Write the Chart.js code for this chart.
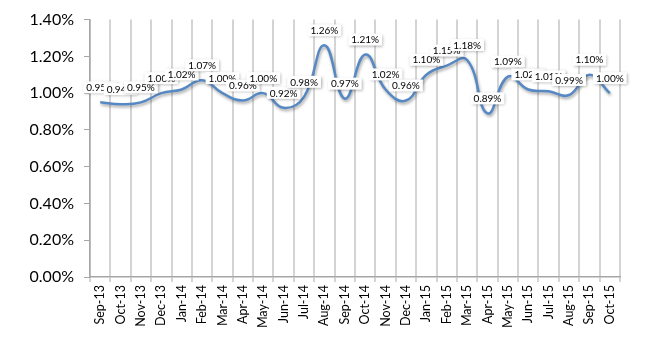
<!DOCTYPE html>
<html>
<head>
<meta charset="utf-8">
<script src="https://cdn.jsdelivr.net/npm/chart.js@4/dist/chart.umd.min.js"></script>
<style>
html,body{margin:0;padding:0;background:#fff;}
#wrap{width:650px;height:350px;position:relative;}
</style>
</head>
<body>
<div id="wrap"><canvas id="c"></canvas></div>
<script>
const categories = ["Sep-13","Oct-13","Nov-13","Dec-13","Jan-14","Feb-14","Mar-14","Apr-14","May-14","Jun-14","Jul-14","Aug-14","Sep-14","Oct-14","Nov-14","Dec-14","Jan-15","Feb-15","Mar-15","Apr-15","May-15","Jun-15","Jul-15","Aug-15","Sep-15","Oct-15"];
const rates = [0.95,0.94,0.95,1.00,1.02,1.07,1.00,0.96,1.00,0.92,0.98,1.26,0.97,1.21,1.02,0.96,1.10,1.15,1.18,0.89,1.09,1.02,1.01,0.99,1.10,1.00];
const yTicks = [0,0.2,0.4,0.6,0.8,1.0,1.2,1.4];

const FONT = "Lato, 'Open Sans', sans-serif";

const shadowPlugin = {
  id: 'lineShadow',
  beforeDatasetDraw(chart) {
    const ctx = chart.ctx;
    ctx.save();
    ctx.shadowColor = 'rgba(0,0,0,0.35)';
    ctx.shadowBlur = 3;
    ctx.shadowOffsetX = 1;
    ctx.shadowOffsetY = 2;
  },
  afterDatasetDraw(chart) {
    chart.ctx.restore();
  }
};

const labelPlugin = {
  id: 'boxLabels',
  afterDatasetsDraw(chart) {
    const ctx = chart.ctx;
    const meta = chart.getDatasetMeta(0);
    ctx.save();
    ctx.font = "10px " + FONT;
    ctx.textBaseline = 'middle';
    ctx.textAlign = 'center';
    meta.data.forEach((pt, i) => {
      const txt = rates[i].toFixed(2) + '%';
      const w = ctx.measureText(txt).width + 6;
      const h = 12;
      const cx = pt.x, cy = pt.y - 15;
      ctx.save();
      ctx.shadowColor = 'rgba(0,0,0,0.35)';
      ctx.shadowBlur = 3;
      ctx.shadowOffsetX = 1;
      ctx.shadowOffsetY = 1;
      ctx.fillStyle = '#ffffff';
      ctx.fillRect(cx - w/2, cy - h/2, w, h);
      ctx.restore();
      ctx.fillStyle = '#000000';
      ctx.fillText(txt, cx, cy + 0.5);
    });
    ctx.restore();
  }
};

new Chart(document.getElementById('c'), {
  type: 'line',
  data: {
    labels: categories,
    datasets: [{
      data: rates,
      borderColor: '#5689c4',
      borderWidth: 2.5,
      pointRadius: 0,
      tension: 0.45,
      fill: false
    }]
  },
  options: {
    responsive: true,
    maintainAspectRatio: false,
    animation: false,
    layout: { padding: { left: 0, right: 30, top: 17, bottom: 0 } },
    plugins: { legend: { display: false }, tooltip: { enabled: false } },
    scales: {
      x: {
        offset: true,
        grid: {
          offset: true,
          drawOnChartArea: true,
          color: '#d4d4d4',
          lineWidth: 2,
          tickLength: 5
        },
        border: { color: '#a6a6a6', width: 1.5 },
        ticks: {
          maxRotation: 90, minRotation: 90, autoSkip: false,
          color: '#000', padding: 3,
          font: { family: FONT, size: 12.5 }
        },
        afterFit(s) { s.height = 73; }
      },
      y: {
        min: 0, max: 1.4,
        afterBuildTicks(s) { s.ticks = yTicks.map(v => ({ value: v })); },
        grid: { drawOnChartArea: false, color: '#a6a6a6', tickLength: 6 },
        border: { color: '#a6a6a6', width: 1.5 },
        ticks: {
          color: '#000', padding: 10,
          font: { family: FONT, size: 16 },
          callback: v => v.toFixed(2) + '%'
        },
        afterFit(s) { s.width = 90; }
      }
    }
  },
  plugins: [shadowPlugin, labelPlugin]
});
</script>
</body>
</html>
